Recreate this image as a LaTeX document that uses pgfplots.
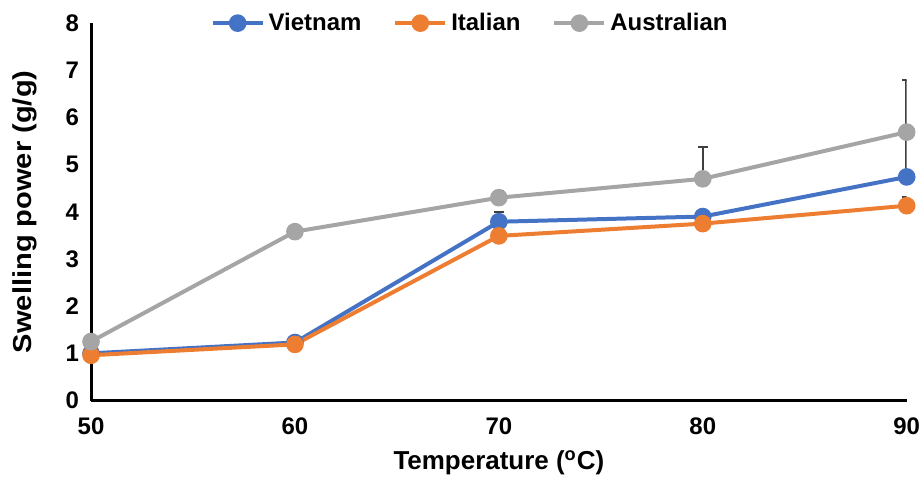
\documentclass[border=0pt]{standalone}
\usepackage{fontspec}
\setmainfont{Liberation Sans}
\usepackage{pgfplots}
\pgfplotsset{compat=1.18}
\definecolor{cblue}{HTML}{4472C4}
\definecolor{corange}{HTML}{ED7D31}
\definecolor{cgray}{HTML}{A5A5A5}
\definecolor{cerr}{HTML}{404040}
\begin{document}
\begin{tikzpicture}
\begin{axis}[
  scale only axis,
  width=408.5pt, height=189pt,
  xmin=50, xmax=90, ymin=0, ymax=8,
  xtick={50,60,70,80,90}, ytick={0,1,...,8},
  axis x line=bottom, axis y line=left,
  axis line style={line width=1.5pt, -},
  major tick length=0pt,
  /pgf/number format/assume math mode=true,
  ticklabel style={font=\fontsize{12}{14}\selectfont\bfseries},
  xticklabel style={yshift=-5pt, inner xsep=0.5pt},
  yticklabel style={xshift=-2.5pt},
  xlabel={Temperature (\textsuperscript{o}C)},
  ylabel={\scalebox{1.12}[1]{Swelling power (g/g)}},
  label style={font=\fontsize{13}{15}\selectfont\bfseries},
  xlabel style={at={([yshift=-31pt]axis description cs:0.5,0)}, anchor=center, inner sep=2pt},
  ylabel style={at={([xshift=-33pt]axis description cs:0,0.5)}, anchor=center, inner sep=6.5pt},
  legend style={at={(0.466,1)}, anchor=center, draw=none, fill=none, inner ysep=4.5pt,
    legend columns=3, font=\fontsize{12}{14}\selectfont\bfseries,
    /tikz/every even column/.append style={column sep=14pt}},
  legend image code/.code={
    \draw[#1, mark repeat=2, mark phase=2] plot coordinates {(0pt,0pt) (12.5pt,0pt) (25pt,0pt)};},
  every axis plot/.append style={line width=2pt, mark=*, mark size=3.4pt},
  error bars/y dir=plus, error bars/y explicit,
  error bars/error bar style={line width=1.2pt, color=cerr},
  error bars/error mark options={rotate=90, mark size=2.4pt, line width=1pt, color=cerr},
]
\addplot[color=cblue, mark options={fill=cblue, draw=cblue}] coordinates {
  (50,1.00) +- (0,0.03)
  (60,1.23) +- (0,0.03)
  (70,3.79) +- (0,0.20)
  (80,3.90) +- (0,0.12)
  (90,4.74) +- (0,0.95)
};
\addlegendentry{Vietnam}
\addplot[color=corange, mark options={fill=corange, draw=corange}] coordinates {
  (50,0.96) +- (0,0.02)
  (60,1.19) +- (0,0.02)
  (70,3.49) +- (0,0.03)
  (80,3.75) +- (0,0.03)
  (90,4.13) +- (0,0.18)
};
\addlegendentry{Italian}
\addplot[color=cgray, mark options={fill=cgray, draw=cgray}] coordinates {
  (50,1.25) +- (0,0.02)
  (60,3.58) +- (0,0.03)
  (70,4.30) +- (0,0.15)
  (80,4.70) +- (0,0.68)
  (90,5.69) +- (0,1.10)
};
\addlegendentry{Australian}
\end{axis}
\end{tikzpicture}
\end{document}
